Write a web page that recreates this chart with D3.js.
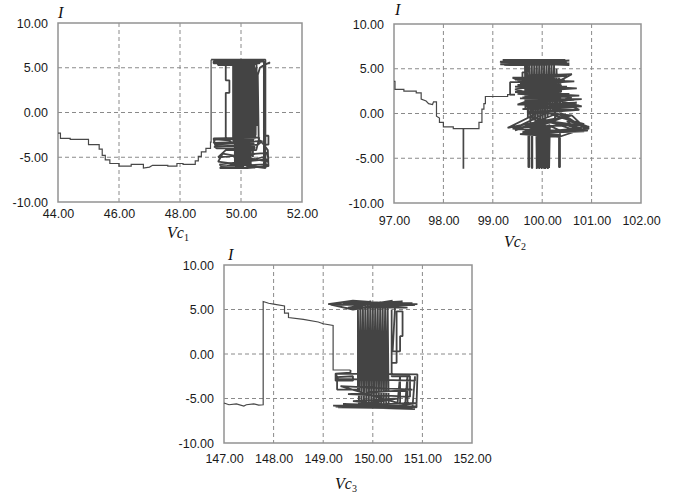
<!DOCTYPE html>
<html>
<head>
<meta charset="utf-8">
<script src="https://cdn.jsdelivr.net/npm/d3@7"></script>
<style>
  body { margin: 0; background: #fff; }
  .tick text { font-family: "Liberation Sans", Arial, sans-serif; font-size: 12.5px; fill: #1a1a1a; }
</style>
</head>
<body>
<svg id="chart" width="675" height="496"></svg>
<script>
// ---- data ----
var yTicks = [-10, -5, 0, 5, 10];
var xTicks1 = [44, 46, 48, 50, 52];
var xTicks2 = [97, 98, 99, 100, 101, 102];
var xTicks3 = [147, 148, 149, 150, 151, 152];

// Vc1 - I: approach staircase, then the oscillation block
var path1 = [[44.00,-2.3],[44.08,-2.3],[44.08,-2.9],[44.40,-2.9],[44.40,-3.0],[45.00,-3.0],[45.00,-3.6],[45.35,-3.6],
  [45.35,-4.1],[45.45,-4.1],[45.45,-4.8],[45.55,-4.8],[45.55,-5.3],[45.70,-5.3],[45.70,-5.7],[46.00,-5.7],[46.00,-6.0],
  [46.40,-6.0],[46.40,-5.8],[46.80,-5.8],[46.80,-6.2],[47.00,-6.1],[47.10,-5.9],[47.60,-5.9],[47.60,-6.0],[47.90,-6.0],
  [47.90,-5.7],[48.10,-5.7],[48.10,-5.8],[48.50,-5.8],[48.50,-5.4],[48.60,-5.4],[48.60,-4.9],[48.70,-4.9],[48.70,-4.4],
  [48.85,-4.4],[48.85,-4.0],[49.00,-4.0],[49.00,-3.3],[49.02,-3.3],[49.02,5.9]];
var cloud1 = [[49.02,5.9],[50.80,5.9],[50.80,-6.1],[50.75,-6.1],[50.75,5.7],[49.10,5.7],[49.10,5.5],[50.60,5.5],
  [50.65,5.8],[49.20,5.8],[49.25,5.3],[50.50,5.4],[49.60,5.6],[49.50,5.6],[49.50,3.6],[49.62,3.6],[49.62,2.2],
  [49.50,2.2],[49.50,-3.0],[49.74,-3.0],
  [49.74,5.6],[49.76,-3.2],[49.78,5.8],[49.80,-6.0],[49.82,5.7],[49.84,-5.8],[49.86,5.8],[49.88,-6.1],[49.90,5.7],
  [49.92,-6.0],[49.94,5.8],[49.96,-6.2],[49.98,5.7],[50.00,-6.0],[50.02,5.8],[50.04,-6.1],[50.06,5.7],[50.08,-5.9],
  [50.10,5.8],[50.12,-6.0],[50.14,5.6],[50.16,-5.8],[50.18,5.7],[50.20,-6.1],[50.22,5.5],[50.24,-6.0],[50.26,5.6],
  [50.28,-5.9],[50.30,5.7],[50.32,-6.0],[50.34,5.5],[50.36,-4.0],[50.38,5.4],[50.40,-3.2],[50.42,5.2],[50.44,-3.0],
  [50.46,5.0],[50.48,-2.5],[50.50,4.8],[50.52,-1.5],[50.51,5.5],[50.47,-2.8],[50.43,5.7],[50.39,-5.0],[50.35,5.8],
  [50.31,-6.1],[50.27,5.8],[50.23,-6.2],[50.19,5.8],[50.15,-6.0],[50.11,5.9],[50.07,-6.2],[50.03,5.9],[49.99,-6.1],
  [49.95,5.9],[49.91,-6.2],[49.87,5.8],[49.83,-6.1],[49.79,5.7],[49.75,-3.5],
  [49.60,-3.1],[49.15,-3.0],[49.10,-3.4],[50.70,-3.2],[50.55,-3.6],[49.12,-3.8],[49.20,-4.0],[50.45,-4.0],
  [50.40,-3.3],[49.15,-3.6],[49.10,-2.9],[50.60,-2.8],[50.50,-4.2],[49.50,-4.2],[49.25,-5.0],[50.85,-4.5],
  [50.90,-5.2],[49.30,-5.8],[49.35,-6.0],[50.85,-5.8],[50.80,-6.2],[49.25,-5.5],[49.40,-4.6],[50.90,-5.5],
  [50.70,-5.0],[49.30,-6.2],[50.20,-6.2],[50.90,-6.0],[50.88,-4.2],[50.75,-3.6],[50.90,-3.6],[50.90,-2.6],
  [50.75,-2.6],[50.75,-3.6],[50.58,-3.0],[50.55,4.2],[50.62,5.0],[50.75,5.3],[50.95,5.6],[50.90,5.45]];

// Vc2 - I
var path2 = [[97.00,3.6],[97.02,3.6],[97.02,2.7],[97.20,2.7],[97.20,2.5],[97.45,2.5],[97.45,2.3],[97.55,2.3],
  [97.55,1.6],[97.65,1.4],[97.70,1.1],[97.78,1.0],[97.80,1.3],[97.86,1.3],[97.86,-0.3],[97.92,-0.5],[97.92,-1.0],
  [98.00,-1.0],[98.00,-1.5],[98.20,-1.5],[98.20,-1.7],[98.40,-1.7],[98.40,-6.1],[98.41,-6.1],[98.41,-1.7],[98.72,-1.7],
  [98.72,-1.0],[98.78,-1.0],[98.78,0.5],[98.82,0.5],[98.82,1.1],[98.85,1.1],[98.85,1.9],[99.30,1.9],[99.30,2.1],[99.45,2.1]];
var cloud2 = [[99.45,2.1],[99.35,2.1],[99.35,3.5],[99.60,3.5],[99.60,4.6],[99.70,4.6],[99.70,5.4],[99.15,5.5],
  [100.55,5.6],[99.20,5.9],[100.50,5.8],[99.15,5.7],[100.55,5.4],[99.20,6.0],[100.45,6.0],[100.50,5.5],[99.25,5.4],
  [99.15,5.8],[100.55,5.9],[99.65,5.6],
  [99.66,0.5],[99.69,5.7],[99.71,-0.5],[99.74,5.8],[99.76,-1.0],[99.79,5.7],[99.81,-0.8],[99.84,5.9],[99.86,-1.5],
  [99.89,5.8],[99.91,-1.0],[99.94,5.7],[99.96,-1.2],[99.99,6.0],[100.01,-0.7],[100.04,5.8],[100.06,-1.3],[100.09,5.7],
  [100.11,-0.5],[100.14,5.9],[100.16,0.0],[100.19,5.6],[100.21,0.5],[100.24,5.5],[100.26,-0.5],[100.29,5.0],
  [100.31,0.2],[100.34,4.0],[100.36,1.0],[100.38,3.2],
  [99.45,3.0],[100.40,2.5],[99.50,2.2],[100.60,1.8],[99.55,3.3],[100.50,3.0],[99.50,1.0],[100.70,1.2],
  [99.60,0.5],[100.80,0.8],[99.45,2.7],[100.30,3.5],[99.70,4.2],[100.60,4.4],[99.65,1.5],[100.50,0.3],
  [99.55,2.5],[100.55,2.2],[99.60,1.8],[100.65,1.5],[99.50,3.6],[100.45,3.8],[99.70,0.0],[100.75,0.4],
  [99.40,4.0],[100.50,4.2],[99.45,3.8],[100.65,3.6],[99.50,3.2],[100.70,2.8],[99.45,2.4],[100.75,2.0],
  [99.55,1.7],[100.80,1.6],[99.60,1.2],[100.75,0.9],[99.65,0.8],[100.70,0.4],[99.70,0.2],[100.60,-0.2],
  [99.30,-1.6],[100.00,0.3],[100.90,-1.4],[100.05,-0.8],[99.45,-1.9],[100.30,0.0],[100.95,-1.7],[99.60,-2.1],
  [100.40,-0.5],[100.85,-1.2],[99.70,-1.5],[100.60,-0.2],[100.92,-1.9],[100.10,-2.0],[99.40,-1.7],[100.20,-1.0],
  [100.80,-1.6],[99.55,-2.3],[100.35,-2.6],[100.95,-1.5],[100.50,-0.8],[100.70,-1.9],[99.75,-0.3],[100.15,-1.7],
  [99.50,-1.5],[100.25,0.5],[100.90,-1.8],[99.65,-1.9],[100.45,-1.2],[100.85,-2.0],[99.85,-2.2],
  [99.88,-1.0],[99.89,-6.2],[99.905,-1.5],[99.915,-6.1],[99.93,-1.2],[99.94,-6.2],[99.955,-1.8],[99.965,-6.1],
  [99.98,-1.0],[99.99,-6.2],[100.005,-1.4],[100.015,-6.1],[100.03,-1.6],[100.04,-6.2],[100.055,-1.1],[100.065,-6.2],
  [100.08,-1.5],[100.09,-6.1],[100.105,-1.3],[100.115,-6.2],[100.13,-1.4],[100.14,-6.1],[100.155,-1.3],
  [99.72,-2.0],[99.72,-6.0],[99.74,-6.0],[99.74,-1.8],[99.79,-1.8],[99.79,-6.1],[99.80,-6.1],[99.80,-2.2],
  [100.34,-2.4],[100.34,-6.0],[100.36,-6.0],[100.36,-1.9],[100.20,-1.5]];

// Vc3 - I
var path3 = [[147.00,-5.5],[147.10,-5.7],[147.25,-5.6],[147.40,-5.85],[147.45,-5.7],[147.60,-5.6],[147.70,-5.75],
  [147.79,-5.7],[147.79,5.9],[147.90,5.7],[148.00,5.6],[148.22,5.4],[148.22,4.6],[148.30,4.6],[148.30,4.1],
  [148.60,3.9],[148.90,3.6],[149.00,3.4],[149.20,3.2],[149.20,-1.8],[149.55,-1.8]];
var cloud3 = [[149.55,-1.8],[149.55,-2.1],[149.25,-2.2],[149.25,-3.0],[149.60,-3.0],[149.60,-2.5],[149.28,-2.6],
  [149.28,-4.0],[149.70,-4.0],
  [149.70,5.6],[149.72,-5.9],[149.75,5.8],[149.77,-6.0],[149.80,5.9],[149.82,-5.8],[149.85,5.7],[149.87,-6.1],
  [149.90,5.9],[149.92,-5.9],[149.95,6.0],[149.97,-6.1],[150.00,5.8],[150.02,-6.0],[150.05,5.9],[150.07,-5.8],
  [150.10,5.7],[150.12,-6.1],[150.15,5.9],[150.17,-5.9],[150.20,5.6],[150.22,-6.0],[150.25,5.8],[150.27,-5.7],
  [150.30,5.5],[150.32,-6.0],
  [150.90,-5.5],[149.20,-5.8],[150.85,-6.2],[149.25,-5.9],[150.90,-5.9],[149.40,-5.6],[150.70,-6.1],[149.30,-6.0],
  [150.50,-5.0],[149.60,-5.3],[150.88,-6.0],[150.90,-2.3],[149.25,-2.2],[149.30,-2.8],[150.85,-3.0],[150.85,-2.5],
  [150.80,-6.0],[150.70,-6.0],[150.70,-2.3],[150.65,-5.9],[150.55,-5.9],[150.55,-2.4],[150.50,-5.5],[149.35,-3.6],
  [150.80,-4.0],[149.50,-4.5],[150.75,-4.8],[150.75,-2.5],[150.38,-2.5],
  [150.38,5.0],[150.38,-1.0],[150.48,-1.0],[150.48,4.8],[150.60,4.8],[150.60,2.0],[150.55,2.0],[150.55,0.3],
  [150.40,0.3],[150.45,5.5],
  [150.90,5.6],[149.10,5.6],[149.60,6.0],[150.85,5.5],[149.15,5.55],[149.60,5.0],[150.60,5.9],[149.20,5.5],
  [150.80,5.7],[149.40,5.8],[150.70,5.2],[149.50,5.2],[150.40,6.0]];

var svg = d3.select("#chart");
var fmt = function(d) { return d3.format(".2f")(d).replace("\u2212", "-"); };

function drawPanel(p) {
  var x = d3.scaleLinear().domain([p.xTicks[0], p.xTicks[p.xTicks.length - 1]]).range([p.left, p.right]);
  var y = d3.scaleLinear().domain([-10, 10]).range([p.bottom, p.top]);
  var g = svg.append("g");

  // dashed grid
  g.selectAll("line.gx").data(p.xTicks.slice(1, -1)).enter().append("line")
    .attr("x1", function(d) { return x(d); }).attr("x2", function(d) { return x(d); })
    .attr("y1", p.top).attr("y2", p.bottom)
    .attr("stroke", "#8a8a8a").attr("stroke-dasharray", "4,3");
  g.selectAll("line.gy").data(yTicks.slice(1, -1)).enter().append("line")
    .attr("y1", function(d) { return y(d); }).attr("y2", function(d) { return y(d); })
    .attr("x1", p.left).attr("x2", p.right)
    .attr("stroke", "#8a8a8a").attr("stroke-dasharray", "4,3");

  // frame
  g.append("rect")
    .attr("x", p.left).attr("y", p.top)
    .attr("width", p.right - p.left).attr("height", p.bottom - p.top)
    .attr("fill", "none").attr("stroke", "#929292").attr("stroke-width", 1.5);

  // trajectories
  var line = d3.line().x(function(d) { return x(d[0]); }).y(function(d) { return y(d[1]); });
  g.append("path").attr("d", line(p.series[0]))
    .attr("fill", "none").attr("stroke", "#484848").attr("stroke-width", 1.2);
  g.append("path").attr("d", line(p.series[1]))
    .attr("fill", "none").attr("stroke", "#444").attr("stroke-width", 1.8)
    .attr("stroke-linejoin", "bevel");

  // axes (labels only)
  var ax = g.append("g").attr("transform", "translate(0," + p.bottom + ")")
    .call(d3.axisBottom(x).tickValues(p.xTicks).tickSize(0).tickPadding(p.xPad).tickFormat(fmt));
  ax.select(".domain").remove();
  var ay = g.append("g").attr("transform", "translate(" + p.left + ",0)")
    .call(d3.axisLeft(y).tickValues(yTicks).tickSize(0).tickPadding(10).tickFormat(fmt));
  ay.select(".domain").remove();

  // I label
  g.append("text").attr("x", p.iX).attr("y", p.iY).text("I")
    .attr("font-family", "'Liberation Serif', 'Times New Roman', serif")
    .attr("font-style", "italic").attr("font-size", 16).attr("fill", "#111");

  // Vc label
  var t = g.append("text").attr("x", p.vX).attr("y", p.vY).attr("text-anchor", "middle")
    .attr("font-family", "'Liberation Serif', 'Times New Roman', serif").attr("fill", "#111");
  t.append("tspan").attr("font-style", "italic").attr("font-size", 16).text("Vc");
  t.append("tspan").attr("font-size", 10).attr("dy", 3).text(p.sub);
}

drawPanel({ xTicks: xTicks1, left: 58, right: 302, top: 23, bottom: 202, xPad: 7,
  series: [path1, cloud1], iX: 58, iY: 18, vX: 178, vY: 238, sub: "1" });
drawPanel({ xTicks: xTicks2, left: 394, right: 641, top: 24, bottom: 203, xPad: 13,
  series: [path2, cloud2], iX: 395, iY: 15, vX: 515, vY: 247, sub: "2" });
drawPanel({ xTicks: xTicks3, left: 224, right: 472, top: 265, bottom: 443, xPad: 11,
  series: [path3, cloud3], iX: 228, iY: 260, vX: 346, vY: 489, sub: "3" });
</script>
</body>
</html>
